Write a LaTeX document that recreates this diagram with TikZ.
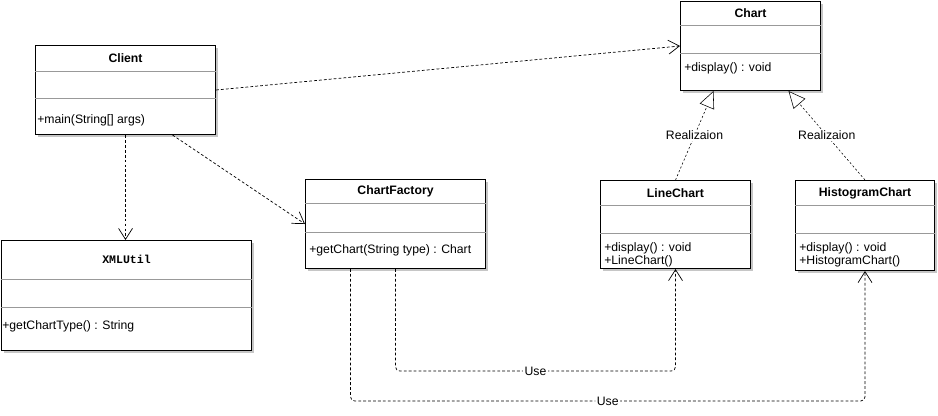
\documentclass[tikz,border=0pt]{standalone}
\usepackage{fontspec}
\setmainfont{Liberation Sans}
\setmonofont{Liberation Mono}
\usetikzlibrary{arrows.meta, calc, shadows}

\begin{document}
\begin{tikzpicture}[x=0.025cm, y=-0.025cm,
  font=\fontsize{8.7}{8}\selectfont,
  umlbox/.style={draw, line width=0.7pt, fill=white, anchor=north west,
    drop shadow={shadow xshift=2pt, shadow yshift=-2pt, fill=gray!45, opacity=1}},
  divider/.style={draw=gray!80, line width=0.5pt},
  clsname/.style={font=\fontsize{8.7}{8}\selectfont\bfseries},
  ops/.style={anchor=west, align=left, inner sep=0pt},
  depend/.style={dash pattern=on 2pt off 1.5pt, line width=0.5pt,
    -{Straight Barb[length=7.8pt, width=9.9pt]}},
  realize/.style={dash pattern=on 1.5pt off 1.5pt, line width=0.4pt,
    -{Triangle[open, length=12pt, width=11pt, fill=white]}},
  usage/.style={depend, rounded corners=3pt},
  lbl/.style={fill=white, inner sep=1pt}]
  \useasboundingbox (0,0) rectangle (938,415);

  % Client (top left)
  \node[umlbox, minimum width=4.5cm, minimum height=2.225cm] (client) at (35,45) {};
  \node[clsname] (client-name) at ($(client.north)+(0,13)$) {Client};
  \draw[divider] ($(client.north west)+(0,26)$) -- ($(client.north east)+(0,26)$);
  \draw[divider] ($(client.north west)+(0,53)$) -- ($(client.north east)+(0,53)$);
  \node[ops] (client-ops) at ($(client.north west)+(2,75)$) {+main(String[] args)};

  % XMLUtil (bottom left)
  \node[umlbox, minimum width=6.25cm, minimum height=2.75cm] (xmlutil) at (1,240) {};
  \node[font=\fontsize{8.2}{8}\selectfont\ttfamily\bfseries] (xmlutil-name) at ($(xmlutil.north)+(0,19)$) {XMLUtil};
  \draw[divider] ($(xmlutil.north west)+(0,39)$) -- ($(xmlutil.north east)+(0,39)$);
  \draw[divider] ($(xmlutil.north west)+(0,67)$) -- ($(xmlutil.north east)+(0,67)$);
  \node[ops] (xmlutil-ops) at ($(xmlutil.north west)+(1,86)$) {+getChartType() : String};

  % ChartFactory (middle)
  \node[umlbox, minimum width=4.5cm, minimum height=2.225cm] (factory) at (305,179) {};
  \node[clsname] (factory-name) at ($(factory.north)+(0,12)$) {ChartFactory};
  \draw[divider] ($(factory.north west)+(0,24)$) -- ($(factory.north east)+(0,24)$);
  \draw[divider] ($(factory.north west)+(0,53)$) -- ($(factory.north east)+(0,53)$);
  \node[ops] (factory-ops) at ($(factory.north west)+(4,71)$) {+getChart(String type) : Chart};

  % Chart (top right)
  \node[umlbox, minimum width=3.5cm, minimum height=2.225cm] (chart) at (680,1) {};
  \node[clsname] (chart-name) at ($(chart.north)+(0,12)$) {Chart};
  \draw[divider] ($(chart.north west)+(0,24)$) -- ($(chart.north east)+(0,24)$);
  \draw[divider] ($(chart.north west)+(0,52)$) -- ($(chart.north east)+(0,52)$);
  \node[ops] (chart-ops) at ($(chart.north west)+(4,67)$) {+display() : void};

  % LineChart
  \node[umlbox, minimum width=3.75cm, minimum height=2.2cm] (linechart) at (600,180) {};
  \node[clsname] (linechart-name) at ($(linechart.north)+(0,13)$) {LineChart};
  \draw[divider] ($(linechart.north west)+(0,25)$) -- ($(linechart.north east)+(0,25)$);
  \draw[divider] ($(linechart.north west)+(0,53)$) -- ($(linechart.north east)+(0,53)$);
  \node[ops] (linechart-ops) at ($(linechart.north west)+(4,74.5)$) {+display() : void\\+LineChart()};

  % HistogramChart
  \node[umlbox, minimum width=3.475cm, minimum height=2.25cm] (histo) at (795,180) {};
  \node[clsname] (histo-name) at ($(histo.north)+(0,13)$) {HistogramChart};
  \draw[divider] ($(histo.north west)+(0,25)$) -- ($(histo.north east)+(0,25)$);
  \draw[divider] ($(histo.north west)+(0,53)$) -- ($(histo.north east)+(0,53)$);
  \node[ops] (histo-ops) at ($(histo.north west)+(4,75)$) {+display() : void\\+HistogramChart()};

  % dependencies of Client
  \draw[depend] (client.east) -- (chart.west);
  \draw[depend] (client.south) -- (client.south |- xmlutil.north);
  \draw[depend] ($(client.south)+(47,0)$) -- (factory.west);

  % realizations
  \draw[realize] (linechart.north) -- node[lbl] (real-a) {Realizaion} ($(chart.south)+(-37,0)$);
  \draw[realize] (histo.north) -- node[lbl] (real-b) {Realizaion} ($(chart.south)+(38,0)$);

  % ChartFactory uses the charts
  \draw[usage] (factory.south) -- ++(0,102) -| node[lbl, pos=0.25] (use-a) {Use} (linechart.south);
  \draw[usage] ($(factory.south)+(-45,0)$) -- ++(0,132) -| node[lbl, pos=0.25] (use-b) {Use} (histo.south);
\end{tikzpicture}
\end{document}
